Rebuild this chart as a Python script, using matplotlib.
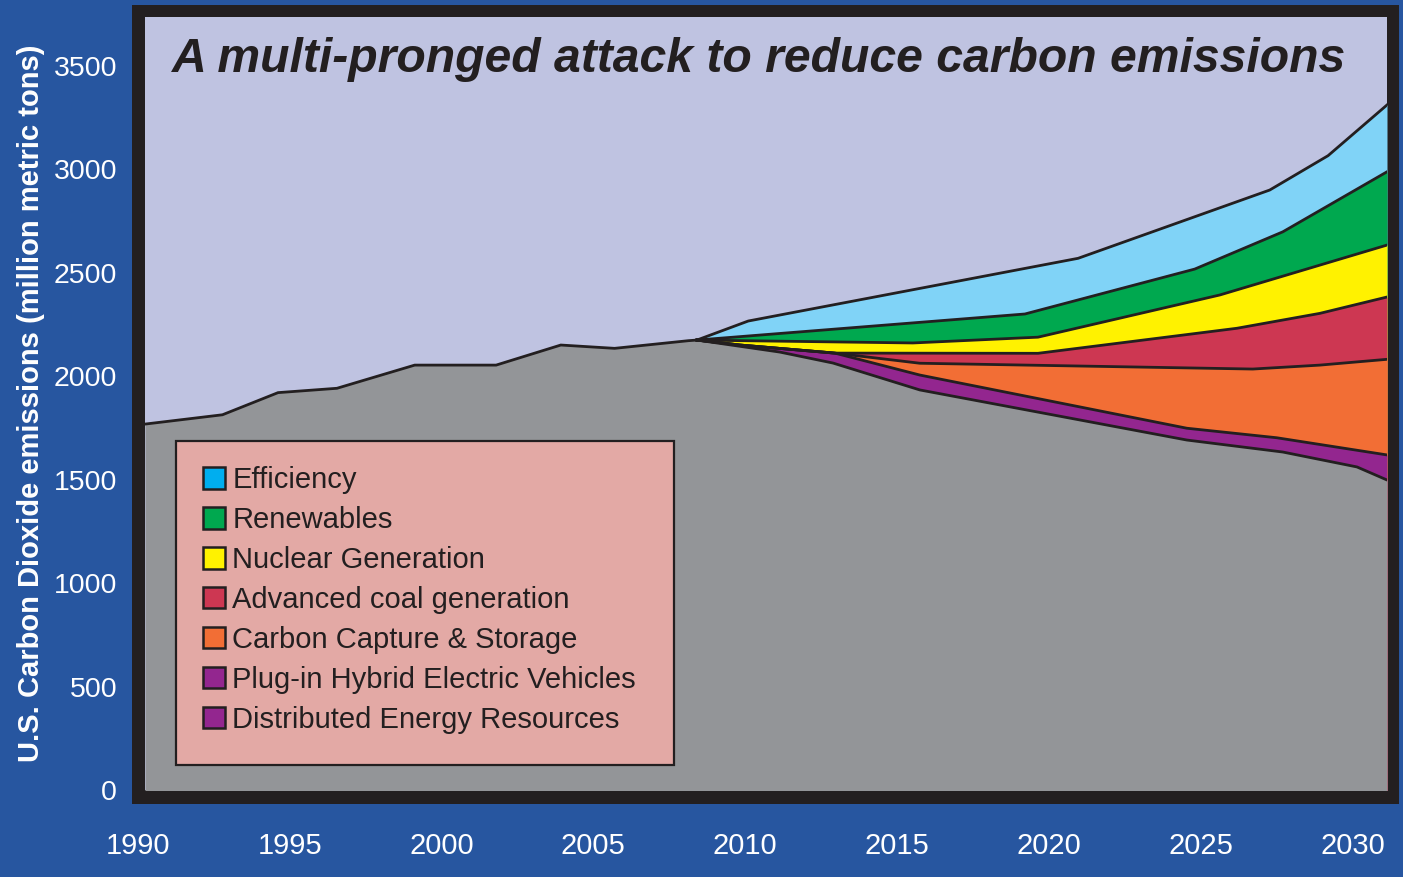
import matplotlib
matplotlib.use("Agg")
import matplotlib.pyplot as plt
from matplotlib.patches import Patch, Rectangle

plt.rcParams['font.family'] = ['Liberation Sans', 'DejaVu Sans']

# ---- data (million metric tons CO2) ----
# historical + baseline remaining emissions (top of the grey area)
base_years = [1990.24, 1992.79, 1994.62, 1996.56, 1999.12, 2001.80, 2003.93, 2005.70,
              2008.13, 2008.41, 2011.14, 2012.89, 2015.75, 2024.54, 2027.70, 2030.14, 2031.13]
base_vals = [1768, 1813, 1920, 1941, 2053, 2053, 2150, 2134,
             2171, 2174, 2116, 2063, 1933, 1691, 1633, 1561, 1498]

# upper edge of each wedge (stacked), bottom wedge first
phev_years = [2008.41, 2009.83, 2012.95, 2015.75, 2024.54, 2027.50, 2031.13]
phev_vals = [2174, 2150, 2111, 2005, 1748, 1702, 1619]

ccs_years = [2008.41, 2009.83, 2012.95, 2015.75, 2026.71, 2028.92, 2031.13]
ccs_vals = [2174, 2150, 2111, 2062, 2034, 2053, 2081]

coal_years = [2008.41, 2009.83, 2012.95, 2019.64, 2026.19, 2028.92, 2031.13]
coal_vals = [2174, 2150, 2111, 2110, 2231, 2303, 2382]

nuclear_years = [2008.41, 2015.52, 2019.64, 2025.63, 2031.13]
nuclear_vals = [2174, 2160, 2188, 2392, 2633]

renew_years = [2008.41, 2019.21, 2024.80, 2027.70, 2031.13]
renew_vals = [2174, 2300, 2517, 2697, 2987]

eff_years = [2008.41, 2010.10, 2020.96, 2027.27, 2029.19, 2031.13]
eff_vals = [2174, 2266, 2569, 2899, 3065, 3310]

legend_labels = ['Efficiency', 'Renewables', 'Nuclear Generation', 'Advanced coal generation',
                 'Carbon Capture & Storage', 'Plug-in Hybrid Electric Vehicles',
                 'Distributed Energy Resources']
legend_colors = ['#00AEEF', '#00A84F', '#FFF200', '#CD3752', '#F26E35', '#93268F', '#93268F']

xticks = [1990, 1995, 2000, 2005, 2010, 2015, 2020, 2025, 2030]
yticks = [0, 500, 1000, 1500, 2000, 2500, 3000, 3500]

# colours
bg_blue = '#2756A0'
lavender = '#BFC3E1'
grey = '#939598'
ink = '#231F20'

W, H = 1403, 877
fig = plt.figure(figsize=(W / 100, H / 100), dpi=100, facecolor=bg_blue)

# thick black frame behind the plot panel
fig.patches.append(Rectangle((132 / W, 1 - 804 / H), 1267 / W, 799 / H,
                             transform=fig.transFigure, facecolor=ink,
                             edgecolor='none', zorder=-1))

ax = fig.add_axes([145 / W, 1 - 790 / H, 1242 / W, 773 / H])
ax.set_facecolor(lavender)
for s in ax.spines.values():
    s.set_visible(False)

# paint wedges from the top down, each filled down past the bottom edge
floor = -300
layers = [
    (eff_years, eff_vals, '#80D3F7'),
    (renew_years, renew_vals, '#00A84F'),
    (nuclear_years, nuclear_vals, '#FFF200'),
    (coal_years, coal_vals, '#CD3752'),
    (ccs_years, ccs_vals, '#F26E35'),
    (phev_years, phev_vals, '#93268F'),
    (base_years, base_vals, grey),
]
for xs, ys, c in layers:
    ax.fill_between(xs, floor, ys, color=c, linewidth=0)
for xs, ys, c in layers:
    ax.plot(xs, ys, color=ink, linewidth=2.0, solid_joinstyle='miter')

# y ticks through the axis
ax.set_yticks(yticks)
ax.set_yticklabels([str(t) for t in yticks])
ax.tick_params(axis='y', length=0, pad=20, labelsize=20.5, labelcolor='white')

# x labels sit outside the panel (1990 is left of the panel edge), so place as text
ax.set_xticks([])
for t in xticks:
    ax.text(t, -0.072, str(t), transform=ax.get_xaxis_transform(), clip_on=False,
            ha='center', va='center', fontsize=21, color='white')

ax.set_xlim(1990.24, 2031.13)
ax.set_ylim(0, 3735)

# legend box
ax.add_patch(Rectangle((176 / W, 1 - 765 / H), 498 / W, 324 / H,
                       transform=fig.transFigure, facecolor='#E3A9A5',
                       edgecolor=ink, linewidth=1.6, zorder=5))
handles = [Patch(facecolor=c, edgecolor=ink, linewidth=1.8) for c in legend_colors]
leg = ax.legend(handles, legend_labels, loc='upper left',
                bbox_to_anchor=(203 / W, 1 - 466 / H), bbox_transform=fig.transFigure,
                frameon=False, borderpad=0, borderaxespad=0,
                handlelength=0.76, handleheight=0.76, handletextpad=0.25,
                labelspacing=0.41, fontsize=21, labelcolor=ink)
leg.set_zorder(6)

# title and y label
fig.text(172 / W, 1 - 72 / H, 'A multi-pronged attack to reduce carbon emissions',
         fontsize=34.7, fontweight='bold', fontstyle='italic', color=ink,
         ha='left', va='baseline')
fig.text(31 / W, 1 - 403 / H, 'U.S. Carbon Dioxide emissions (million metric tons)',
         fontsize=21, fontweight='bold', color='white', rotation=90,
         ha='center', va='center')

fig.savefig('out.png', dpi=100, facecolor=bg_blue)
